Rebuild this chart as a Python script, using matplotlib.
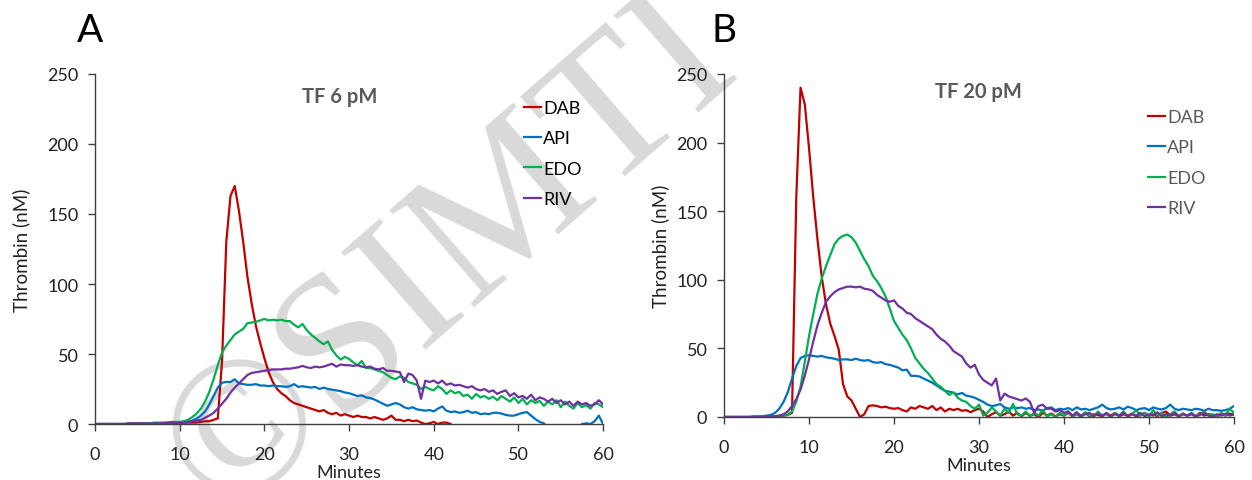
import numpy as np
import matplotlib.pyplot as plt

# time grid (minutes), one reading every 0.5 min
minutes = np.arange(0, 60.5, 0.5)

# ---- panel A : TF 6 pM ----
dab_a = [0, 0, 0, 0, 0, 0, 0, 0, 0, 0,
         0, 0, 0, 0, 0, 0, 0.5, 0.5, 0.5, 0.5,
         0.5, 1, 1, 1, 1, 1.5, 2, 2, 3, 4,
         45, 130, 163, 170, 152, 130, 105, 86, 70, 58,
         47, 37, 30, 25, 22, 20, 17, 15, 14, 13,
         12, 11, 10, 9, 10, 8, 7, 8, 6, 7,
         6, 5, 6, 5, 5, 4, 5, 4, 3, 4,
         6, 3, 3, 2, 3, 2, 2.5, 1, 0, 0.5,
         1.5, 0, 1, 1, 0, -3, -3, -3, -3, -3,
         -3, -3, -3, -3, -3, -3, -3, -3, -3, -3,
         -3, -3, -3, -3, -3, -3, -3, -3, -3, -3,
         -3, -3, -3, -3, -3, -3, -3, -3, -3, -3,
         -3]
api_a = [0, 0, 0, 0, 0, 0, 0, 0, 0, 0,
         0, 0, 0, 0, 0.5, 0.5, 0.5, 0.5, 0.5, 1,
         1, 1, 1.5, 2.5, 4, 6, 9, 14, 20, 26,
         29.5, 30, 30, 32, 29, 28.5, 28, 28, 28.5, 27.5,
         27.5, 27, 27.5, 27, 27, 26.5, 27, 28.5, 26.5, 27,
         26.5, 26, 26.5, 25, 26, 25, 24.5, 24, 23.5, 22.5,
         22, 21, 20, 20.5, 19, 18.5, 17.5, 16, 14.5, 13,
         14, 15, 14, 12, 11, 12, 10.5, 10, 9.5, 10,
         9, 11, 12.5, 9.5, 8.5, 9, 8, 8.5, 9.5, 8,
         8.5, 7, 7.5, 7, 8, 8, 7.5, 6.5, 6, 6,
         7, 8, 8.5, 6, 3.5, 1.5, 0.5, -3, -3, -3,
         -3, -3, -3, -3, -3, 0, 0.5, 0, 2, 6,
         0]
edo_a = [0, 0, 0, 0, 0, 0, 0, 0, 0.5, 0.5,
         0.5, 0.5, 0.5, 0.5, 1, 1, 1, 1, 1.5, 1.5,
         1.5, 2, 3, 5, 7.5, 11, 16, 23, 32, 42,
         51, 56, 60, 64, 66, 68, 72, 72.5, 73, 74,
         75, 74, 74.5, 74, 74.5, 73.5, 73.5, 71, 69, 71.5,
         67, 64, 61.5, 59, 57, 59, 53, 49, 46, 48,
         46.5, 44, 42, 45, 40, 40, 39, 38, 37, 35,
         33, 32, 34, 33, 30, 29, 28, 25, 26.5, 25,
         24, 27, 25, 21.5, 24, 22, 23, 20, 21, 18,
         21.5, 19, 20, 18, 19.5, 17, 20, 18, 16, 19,
         15, 18, 14, 17, 15, 16.5, 13, 16, 14, 17,
         12, 16, 13, 11, 15, 12, 13.5, 11, 15, 14,
         12]
riv_a = [0, 0, 0, 0, 0, 0, 0, 0, 0.5, 0.5,
         0.5, 0.5, 0.5, 0.5, 0.5, 0.5, 0.5, 1, 1, 1,
         1, 1, 1.5, 2, 2.5, 3, 4.5, 6, 8, 11,
         14.5, 18, 22.5, 26, 29, 32, 35, 36.5, 37, 37.5,
         38, 38.5, 39, 39, 39, 39.5, 39.5, 40, 40.5, 41.5,
         40.5, 40, 41, 40.5, 41, 42, 43, 41, 42.5, 42,
         42, 41.5, 42, 41, 40.5, 41, 39.5, 39, 40, 38,
         38, 37.5, 37, 30, 36, 35, 31, 18, 31, 30,
         31, 29, 31, 28, 29, 27.5, 28, 27, 26, 27,
         25, 24, 25, 23, 24, 21.5, 23, 24, 20, 22,
         19, 20, 18, 21, 17, 19, 18, 16, 18, 15,
         17, 14, 16, 13, 16, 14, 15, 13, 14, 17,
         14]

# ---- panel B : TF 20 pM ----
dab_b = [0, 0, 0, 0, 0, 0, 0, 0, 0, 0,
         0, 0, 0.5, 0.5, 1, 1.5, 3, 160, 240, 228,
         196, 160, 129, 102, 82, 68, 59, 49, 24, 15,
         12, 6, 0, 2, 8, 8.5, 8, 7, 7.5, 6.5,
         6, 6.5, 5, 4, 7, 6, 8, 7, 6, 8,
         5, 7, 4, 6, 5, 6, 4.5, 5, 3.5, 5,
         6, 4, 0, 2, 3.5, 1, 2, 4, 1, 3,
         0.5, 3, 1, 2, 0, 3, 1, 2.5, 0.5, 2,
         1, 3, 0.5, 2, 1, 3, 0.5, 2, 1.5, 0.5,
         2.5, 1, 3, 0.5, 2, 1, 2.5, 0.5, 1.5, 3,
         1, 2, 0.5, 3, 4, 1, 2, 0.5, 2.5, 1,
         2, 0.5, 3, 1, 2, 1.5, 0.5, 2, 1, 2.5,
         1.5]
api_b = [0, 0, 0, 0, 0, 0, 0, 0.5, 0.5, 0.5,
         1, 1.5, 3, 6, 11, 18, 28, 37, 43, 44.5,
         45, 44.5, 44, 44.5, 43.5, 43, 42.5, 41.5, 42, 42,
         41.5, 42.5, 41.5, 41, 41.5, 40, 39.5, 40, 38.5, 38,
         37, 36, 34, 34.5, 30, 30, 29.5, 28, 26.5, 25,
         23, 21, 19, 18.5, 17.5, 16.5, 17.5, 15.5, 15, 14,
         12.5, 11, 9, 8, 8.5, 9.5, 7, 6, 7, 6.5,
         7, 6, 6.5, 5, 5.5, 4.5, 6.5, 7, 5, 6,
         5.5, 6.5, 5, 7, 5.5, 6, 5, 6, 7, 9,
         6.5, 5.5, 6, 7, 5.5, 7.5, 6.5, 5, 6, 6.5,
         5, 7, 6, 5.5, 6.5, 9, 6, 5, 6, 5.5,
         5, 6, 5.5, 4.5, 6, 5, 5, 4.5, 5, 6,
         8]
edo_b = [0, 0, 0, 0, 0, 0, 0, 0, 0, 0,
         0.5, 0.5, 0.5, 1, 1, 1.5, 4, 11, 22, 40,
         59, 75, 90, 101, 110, 118, 126, 130, 132, 133,
         131, 127, 121, 115, 110, 103, 99, 94, 88, 79,
         70, 65, 60, 56, 50, 43, 39, 35, 32, 28,
         24, 22, 19, 16, 18, 14, 12, 11, 8, 6,
         9, 1, 3, 7, 4, 1, 6, 3, 9.5, 2,
         1, 4, 0.5, 3, 1, 5, 0.5, 2, 0, 3,
         1, 4, 0.5, 2, 0, 3.5, 1, 0.5, 4, 1,
         2, 0, 3, 1, 4, 0.5, 2, 5, 1, 3,
         0.5, 5, 1, 3, 0, 2, 4, 0.5, 2.5, 1,
         3, 0.5, 2, 4, 1, 2, 0.5, 3, 1, 6,
         3]
riv_b = [0, 0, 0, 0, 0, 0, 0, 0, 0, 0,
         0.5, 0.5, 0.5, 1, 2, 4, 8, 13, 20, 30,
         42, 55, 67, 76, 84, 88, 91, 93, 94, 95,
         95, 94.5, 95, 93.5, 93, 92, 89, 87, 85, 84,
         85, 81, 79, 76, 75, 72, 70, 68, 66, 64,
         60, 57, 55, 52, 48, 46, 44, 39, 36, 38,
         31, 27, 25, 23, 28, 12, 17, 15, 14, 13,
         12, 13.5, 11, 3, 8, 9, 6, 6, 4, 5,
         3, 4, 1, 3.5, 0.5, 2, 3, 0.5, 2.5, 1,
         3, 0.5, 2, 1, 3, 0.5, 2, 1, 3, 0.5,
         2, 1, 3.5, 0.5, 2, 1, 3, 0.5, 2, 1,
         2.5, 0.5, 1.5, 3, 1, 0.5, 2, 1, 2.5, 1,
         2]

drugs = ['DAB', 'API', 'EDO', 'RIV']
colors = ['#C00000', '#0070C0', '#00B050', '#7030A0']

plt.rcParams['font.family'] = ['Lato', 'DejaVu Sans']

fig = plt.figure(figsize=(12.52, 4.81), dpi=100)

# watermark, drawn first so the curves sit on top of it
fig.text(0.178, -0.077, '\u00a9SIMTI', fontsize=142, color='#d9d9d9',
         family=['Liberation Serif', 'DejaVu Serif'], rotation=41,
         rotation_mode='anchor', ha='left', va='baseline', zorder=-5)

ax_a = fig.add_axes([0.0759, 0.1164, 0.4058, 0.7277])
ax_b = fig.add_axes([0.5783, 0.1310, 0.4073, 0.7131])

panels = [
    (ax_a, [dab_a, api_a, edo_a, riv_a], 'TF 6 pM', (0.482, 0.937), (0.845, 0.926), 'black', 12),
    (ax_b, [dab_b, api_b, edo_b, riv_b], 'TF 20 pM', (0.498, 0.95), (0.832, 0.898), '#595959', 5),
]

for ax, series, title, tpos, lpos, lcol, ypad in panels:
    ax.patch.set_alpha(0)
    for vals, name, c in zip(series, drugs, colors):
        ax.plot(minutes, vals, color=c, lw=1.6, label=name)
    ax.set_xlim(0, 60)
    ax.set_ylim(0, 250)
    ax.set_xticks(np.arange(0, 61, 10))
    ax.set_yticks(np.arange(0, 251, 50))
    for s in ['top', 'right']:
        ax.spines[s].set_visible(False)
    for s in ['left', 'bottom']:
        ax.spines[s].set_color('#404040')
        ax.spines[s].set_linewidth(1.0)
    ax.tick_params(direction='out', length=5, width=1, color='#404040',
                   labelsize=13, labelcolor='#222222', pad=7)
    ax.tick_params(axis='x', pad=10.5)
    ax.set_xlabel('Minutes', fontsize=13, color='#222222', labelpad=2)
    ax.set_ylabel('Thrombin (nM)', fontsize=13.5, color='#222222', labelpad=ypad)
    ax.text(tpos[0], tpos[1], title, transform=ax.transAxes, ha='center', va='center',
            fontsize=14.5, fontweight='bold', color='#595959')
    leg = ax.legend(loc='upper left', bbox_to_anchor=lpos, frameon=False, fontsize=13,
                    handlelength=0.9, handletextpad=0.15, labelspacing=0.8,
                    borderpad=0, borderaxespad=0)
    for txt in leg.get_texts():
        txt.set_color(lcol)

fig.text(0.072, 0.935, 'A', fontsize=28, ha='center', va='center')
fig.text(0.578, 0.935, 'B', fontsize=28, ha='center', va='center')

fig.savefig('out.png', dpi=100)
